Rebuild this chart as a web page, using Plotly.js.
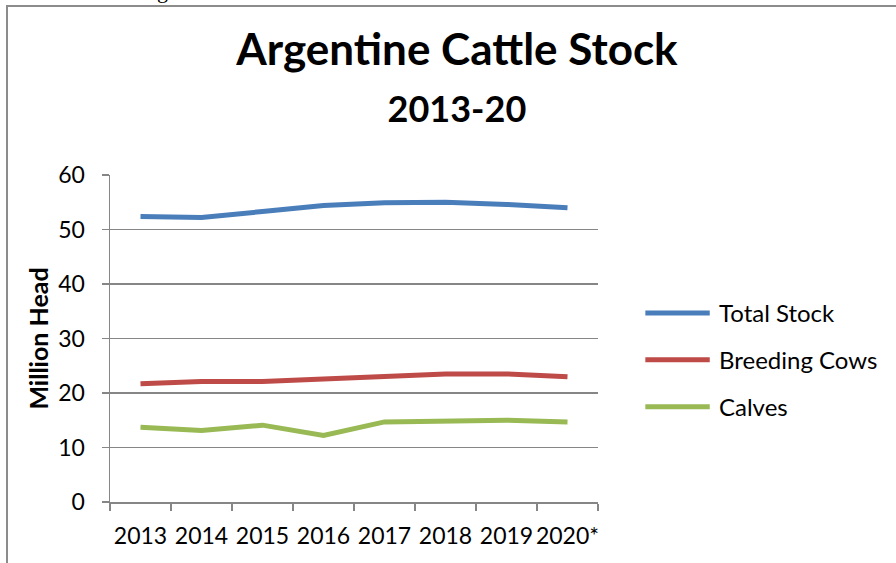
<!DOCTYPE html>
<html>
<head>
<meta charset="utf-8">
<script src="https://cdn.plot.ly/plotly-3.0.1.min.js"></script>
<style>
  html, body { margin: 0; padding: 0; background: #fff; }
  #wrap { position: relative; width: 896px; height: 563px; overflow: hidden; }
  #frame { position: absolute; left: 6px; top: 5px; width: 900px; height: 600px;
           border-top: 2px solid #8c8c8c; border-left: 2px solid #8c8c8c; pointer-events: none; }
  #chart { position: absolute; left: 0; top: 0; width: 896px; height: 563px; }
</style>
</head>
<body>
<div id="wrap">
  <div id="chart"></div>
  <div id="frame"></div>
</div>
<script>
// ---- data ----
const years = ["2013", "2014", "2015", "2016", "2017", "2018", "2019", "2020*"];
const seriesNames = ["Total Stock", "Breeding Cows", "Calves"];
const totalStock = [52.4, 52.2, 53.3, 54.4, 54.9, 55.0, 54.6, 54.0];
const breedingCows = [21.7, 22.1, 22.1, 22.5, 23.0, 23.5, 23.5, 23.0];
const calves = [13.7, 13.1, 14.1, 12.2, 14.7, 14.9, 15.0, 14.7];
const yTicks = [0, 10, 20, 30, 40, 50, 60];

const colors = ["#4a7ebb", "#be4b48", "#98b954"];
const values = [totalStock, breedingCows, calves];
const FONT = "Lato, 'Open Sans', sans-serif";
const grid = "#868686";

const traces = values.map((v, i) => ({
  type: "scatter", mode: "lines", x: years, y: v, name: seriesNames[i],
  line: { color: colors[i], width: 5 }, showlegend: false, hoverinfo: "x+y+name"
}));

// custom legend (longer line samples, like the original)
const legY = [0.578, 0.435, 0.291];
const shapes = seriesNames.map((n, i) => ({
  type: "line", xref: "paper", yref: "paper",
  x0: 1.097, x1: 1.229, y0: legY[i], y1: legY[i],
  line: { color: colors[i], width: 5 }
}));
const annotations = seriesNames.map((n, i) => ({
  xref: "paper", yref: "paper", x: 1.243, y: legY[i], xanchor: "left", yanchor: "middle",
  text: n, showarrow: false, font: { family: FONT, size: 24, color: "#000" }
}));
// cut-off glyph from the surrounding document above the chart frame
annotations.push({
  xref: "paper", yref: "paper", x: 0.1066, y: 1.519, xanchor: "center", yanchor: "bottom",
  text: "g", showarrow: false, font: { family: "'Liberation Serif', serif", size: 22, color: "#000" }
});

const layout = {
  width: 896, height: 563,
  margin: { l: 110, r: 298, t: 175, b: 61 },
  paper_bgcolor: "rgba(0,0,0,0)", plot_bgcolor: "rgba(0,0,0,0)",
  font: { family: FONT, color: "#000" },
  title: {
    text: "<b>Argentine Cattle Stock</b><br><b><span style=\"font-size:36px\">2013-20</span></b>",
    font: { family: FONT, size: 44, color: "#000" },
    xref: "container", yref: "container", x: 0.51, xanchor: "center",
    y: 1 - 65 / 563, yanchor: "top"
  },
  xaxis: {
    type: "category", range: [-0.5, 7.5], tickson: "boundaries",
    ticks: "outside", ticklen: 7, tickwidth: 1.5, tickcolor: grid,
    showline: true, linecolor: grid, linewidth: 1.5,
    showgrid: false, zeroline: false, tickangle: 0,
    tickfont: { family: FONT, size: 23, color: "#000" },
    ticklabelstandoff: 13, fixedrange: true
  },
  yaxis: {
    range: [0, 60], tickvals: yTicks, ticktext: yTicks.map(String),
    ticks: "outside", ticklen: 7, tickwidth: 1.5, tickcolor: grid,
    showline: true, linecolor: grid, linewidth: 1.5,
    showgrid: true, gridcolor: grid, gridwidth: 1.5, zeroline: false,
    tickfont: { family: FONT, size: 23, color: "#000" },
    ticklabelstandoff: 12,
    title: { text: "<b>Million Head</b>", font: { family: FONT, size: 25, color: "#000" }, standoff: 2 },
    fixedrange: true
  },
  shapes: shapes,
  annotations: annotations,
  showlegend: false
};

Plotly.newPlot("chart", traces, layout, { displayModeBar: false, staticPlot: true });
</script>
</body>
</html>
